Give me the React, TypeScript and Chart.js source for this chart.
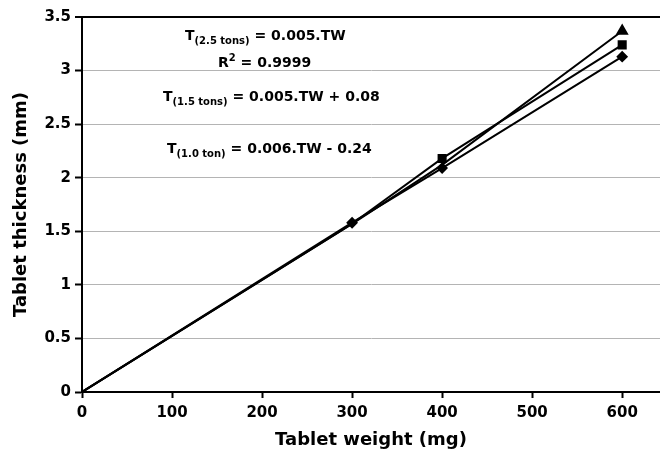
import React, { useEffect, useRef } from "react";
import { Chart, registerables } from "chart.js";

Chart.register(...registerables);

const weights = [0, 300, 400, 600];
const thick25 = [0, 1.57, 2.12, 3.37];
const thick15 = [0, 1.57, 2.18, 3.24];
const thick10 = [0, 1.58, 2.09, 3.13];
const xTicks = [0, 100, 200, 300, 400, 500, 600];

type Part = { t: string; kind?: "sub" | "sup" };
const annotations: { x: number; y: number; parts: Part[] }[] = [
  { x: 185, y: 40, parts: [{ t: "T" }, { t: "(2.5 tons)", kind: "sub" }, { t: " = 0.005.TW" }] },
  { x: 218, y: 67, parts: [{ t: "R" }, { t: "2", kind: "sup" }, { t: " = 0.9999" }] },
  { x: 163, y: 101, parts: [{ t: "T" }, { t: "(1.5 tons)", kind: "sub" }, { t: " = 0.005.TW + 0.08" }] },
  { x: 167, y: 153, parts: [{ t: "T" }, { t: "(1.0 ton)", kind: "sub" }, { t: " = 0.006.TW - 0.24" }] },
];

const FONT = "'DejaVu Sans', Verdana, sans-serif";

const textPlugin = {
  id: "eqText",
  afterDatasetsDraw(chart: any) {
    const ctx = chart.ctx;
    ctx.save();
    ctx.fillStyle = "#000";
    ctx.textBaseline = "alphabetic";
    ctx.textAlign = "left";
    for (const a of annotations) {
      let x = a.x;
      for (const p of a.parts) {
        let dy = 0;
        if (p.kind === "sub") {
          ctx.font = `bold 10px ${FONT}`;
          dy = 4;
        } else if (p.kind === "sup") {
          ctx.font = `bold 10px ${FONT}`;
          dy = -6;
        } else {
          ctx.font = `bold 14px ${FONT}`;
        }
        ctx.fillText(p.t, x, a.y + dy);
        x += ctx.measureText(p.t).width;
      }
    }
    ctx.restore();
  },
};

export default function App() {
  const ref = useRef<HTMLCanvasElement | null>(null);
  useEffect(() => {
    if (!ref.current) return;
    const mk = (d: number[]) => weights.map((w, i) => ({ x: w, y: d[i] }));
    const chart = new Chart(ref.current, {
      type: "line",
      data: {
        datasets: [
          {
            label: "2.5 tons",
            data: mk(thick25),
            borderColor: "#000",
            backgroundColor: "#000",
            borderWidth: 2,
            pointStyle: "triangle",
            pointRadius: [0, 0, 0, 5.5],
            fill: false,
          },
          {
            label: "1.5 tons",
            data: mk(thick15),
            borderColor: "#000",
            backgroundColor: "#000",
            borderWidth: 2,
            pointStyle: "rect",
            pointRadius: [0, 0, 5, 5],
            fill: false,
          },
          {
            label: "1.0 ton",
            data: mk(thick10),
            borderColor: "#000",
            backgroundColor: "#000",
            borderWidth: 2,
            pointStyle: "rectRot",
            pointRadius: [0, 4.5, 4.5, 4.5],
            fill: false,
          },
        ],
      },
      options: {
        animation: false,
        responsive: true,
        maintainAspectRatio: false,
        layout: { autoPadding: false, padding: { top: 17, right: 0, left: 0, bottom: 0 } },
        plugins: { legend: { display: false }, tooltip: { enabled: false } },
        scales: {
          x: {
            type: "linear",
            min: 0,
            max: 642,
            afterBuildTicks: (s: any) => {
              s.ticks = xTicks.map((v) => ({ value: v }));
            },
            afterFit: (s: any) => {
              s.height = 62;
              s.paddingRight = 0;
              s.paddingLeft = 0;
            },
            grid: {
              drawOnChartArea: false,
              drawTicks: true,
              tickLength: 6,
              tickColor: "#000",
              tickWidth: 2,
            },
            border: { color: "#000", width: 2 },
            ticks: {
              color: "#000",
              font: { family: FONT, size: 15, weight: "bold" },
              padding: 6,
              maxRotation: 0,
            },
            title: {
              display: true,
              text: "Tablet weight (mg)",
              color: "#000",
              font: { family: FONT, size: 18, weight: "bold" },
              padding: { top: 0, bottom: 3 },
            },
          },
          y: {
            min: 0,
            max: 3.5,
            ticks: {
              stepSize: 0.5,
              color: "#000",
              font: { family: FONT, size: 15, weight: "bold" },
              padding: 4,
              callback: (v: any) => String(v),
            },
            afterFit: (s: any) => {
              s.width = 82;
            },
            grid: {
              color: (c: any) => (c.tick && c.tick.value === 3.5 ? "#000" : "#b4b4b4"),
              lineWidth: (c: any) => (c.tick && c.tick.value === 3.5 ? 2 : 1),
              tickColor: "#000",
              tickLength: 7,
              tickWidth: 2,
            },
            border: { color: "#000", width: 2 },
            title: {
              display: true,
              text: "Tablet thickness (mm)",
              color: "#000",
              font: { family: FONT, size: 18, weight: "bold" },
              padding: { top: 11, bottom: 0 },
            },
          },
        },
      },
      plugins: [textPlugin],
    });
    return () => chart.destroy();
  }, []);
  return (
    <div style={{ position: "absolute", left: 0, top: 0, width: 660, height: 454, background: "#fff" }}>
      <canvas ref={ref} />
    </div>
  );
}
